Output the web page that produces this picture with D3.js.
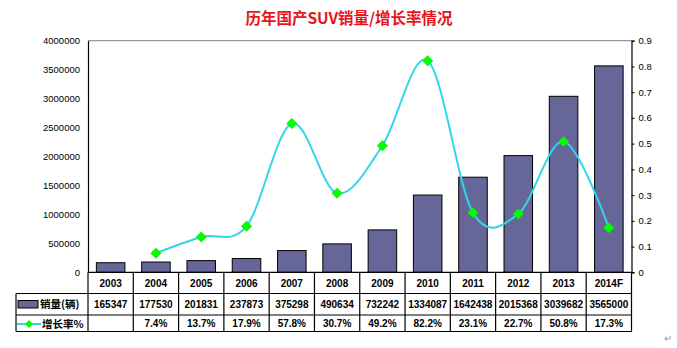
<!DOCTYPE html>
<html><head><meta charset="utf-8">
<script src="https://cdn.jsdelivr.net/npm/d3@7"></script>
<style>
html,body{margin:0;padding:0;background:#fff;}
svg{display:block;}
</style></head>
<body>
<svg id="c" width="677" height="348"></svg>
<script>
const years = ["2003","2004","2005","2006","2007","2008","2009","2010","2011","2012","2013","2014F"];
const sales = [165347,177530,201831,237873,375298,490634,732242,1334087,1642438,2015368,3039682,3565000];
const growth = [null,0.074,0.137,0.179,0.578,0.307,0.492,0.822,0.231,0.227,0.508,0.173];
const growthLabels = ["","7.4%","13.7%","17.9%","57.8%","30.7%","49.2%","82.2%","23.1%","22.7%","50.8%","17.3%"];
const leftTicks = [0,500000,1000000,1500000,2000000,2500000,3000000,3500000,4000000];
const rightTicks = [0,0.1,0.2,0.3,0.4,0.5,0.6,0.7,0.8,0.9];
const title = "历年国产SUV销量/增长率情况";
const seriesNames = ["销量(辆)","增长率%"];

const svg = d3.select("#c");
const L = 88, R = 631.5, T = 40.7, B = 272.3;
const rowY = [272.3, 293.5, 315, 331.5];
const tableLeft = 16;

const x = d3.scaleBand().domain(years).range([L, R]).paddingInner(0).paddingOuter(0);
const yL = d3.scaleLinear().domain([0, 4000000]).range([B, T]);
const yR = d3.scaleLinear().domain([0, 0.9]).range([B, T]);

const barColor = "#666699";
const lineColor = "#33d6e8";
const markColor = "#00ff00";
const font = "Arial, 'Liberation Sans', sans-serif";
const cjk = "'Noto Sans CJK SC', sans-serif";

// Title
svg.append("text").attr("x", 349).attr("y", 24).attr("text-anchor", "middle")
  .attr("fill", "#e8141c").attr("font-family", cjk).attr("font-weight", "bold")
  .attr("font-size", 15.5).text(title);

// Plot frame: top gray
svg.append("line").attr("x1", L).attr("x2", R).attr("y1", T).attr("y2", T)
  .attr("stroke", "#808080").attr("stroke-width", 1);

// Bars
const bw = x.bandwidth() * 0.63;
svg.append("g").selectAll("rect").data(years).join("rect")
  .attr("x", d => x(d) + (x.bandwidth() - bw) / 2)
  .attr("y", (d, i) => yL(sales[i]))
  .attr("width", bw)
  .attr("height", (d, i) => B - yL(sales[i]))
  .attr("fill", barColor).attr("stroke", "#000").attr("stroke-width", 1);

// Left axis
const ga = svg.append("g").attr("transform", `translate(${L},0)`)
  .call(d3.axisLeft(yL).tickValues(leftTicks).tickSize(0).tickPadding(8).tickFormat(d3.format("d")));
ga.select(".domain").attr("stroke", "#000").attr("stroke-width", 1.2);
ga.selectAll("text").attr("font-family", font).attr("font-size", 9.5).attr("fill", "#000");

// Right axis
const gr = svg.append("g").attr("transform", `translate(${R},0)`)
  .call(d3.axisRight(yR).tickValues(rightTicks).tickSize(3).tickPadding(4).tickFormat(d => d === 0 ? "0" : d3.format(".1f")(d)));
gr.select(".domain").attr("stroke", "#000").attr("stroke-width", 1.2);
gr.selectAll(".tick line").attr("stroke", "#000");
gr.selectAll("text").attr("font-family", font).attr("font-size", 9.5).attr("fill", "#000");

// Line
const pts = years.map((d, i) => ({ d, v: growth[i] })).filter(p => p.v !== null);
const line = d3.line().x(p => x(p.d) + x.bandwidth() / 2).y(p => yR(p.v))
  .curve(d3.curveCardinal.tension(0));
svg.append("path").datum(pts).attr("d", line).attr("fill", "none")
  .attr("stroke", lineColor).attr("stroke-width", 2);

const diamond = d3.symbol().type(d3.symbolDiamond2).size(70);
svg.append("g").selectAll("path").data(pts).join("path")
  .attr("transform", p => `translate(${x(p.d) + x.bandwidth() / 2},${yR(p.v)})`)
  .attr("d", diamond).attr("fill", markColor).attr("stroke", "#1fd11f").attr("stroke-width", 0.5);

// Table
const tg = svg.append("g").attr("stroke", "#000").attr("stroke-width", 1.2);
tg.append("line").attr("x1", L).attr("x2", R).attr("y1", rowY[0]).attr("y2", rowY[0]);
for (let r = 1; r < rowY.length; r++) {
  tg.append("line").attr("x1", tableLeft).attr("x2", R).attr("y1", rowY[r]).attr("y2", rowY[r]);
}
const bounds = years.map(d => x(d)).concat([R]);
bounds.forEach(bx => tg.append("line").attr("x1", bx).attr("x2", bx).attr("y1", rowY[0]).attr("y2", rowY[3]));
tg.append("line").attr("x1", tableLeft).attr("x2", tableLeft).attr("y1", rowY[1]).attr("y2", rowY[3]);

const cellText = (arr, r) => svg.append("g").selectAll("text").data(arr).join("text")
  .attr("x", (d, i) => x(years[i]) + x.bandwidth() / 2)
  .attr("y", (rowY[r] + rowY[r + 1]) / 2 + 3.8)
  .attr("text-anchor", "middle").attr("font-family", font).attr("font-weight", "bold")
  .attr("font-size", 10).attr("fill", "#000").text(d => d);
cellText(years, 0);
cellText(sales.map(String), 1);
cellText(growthLabels, 2);

// Legend cells
svg.append("rect").attr("x", 18).attr("y", 300.5).attr("width", 20).attr("height", 7.5)
  .attr("fill", barColor).attr("stroke", "#000").attr("stroke-width", 1);
svg.append("text").attr("x", 40).attr("y", 308).attr("font-family", cjk).attr("font-weight", "bold")
  .attr("font-size", 10.5).attr("fill", "#000").text(seriesNames[0]);
svg.append("line").attr("x1", 17).attr("x2", 41).attr("y1", 324).attr("y2", 324)
  .attr("stroke", lineColor).attr("stroke-width", 2);
svg.append("path").attr("transform", "translate(29,324)").attr("d", d3.symbol().type(d3.symbolDiamond2).size(40))
  .attr("fill", markColor);
svg.append("text").attr("x", 42).attr("y", 327.5).attr("font-family", cjk).attr("font-weight", "bold")
  .attr("font-size", 10.5).attr("fill", "#000").text(seriesNames[1]);

// return mark
svg.append("text").attr("x", 664).attr("y", 342).attr("font-family", font).attr("font-size", 10)
  .attr("fill", "#999").text("↵");
</script>
</body></html>
